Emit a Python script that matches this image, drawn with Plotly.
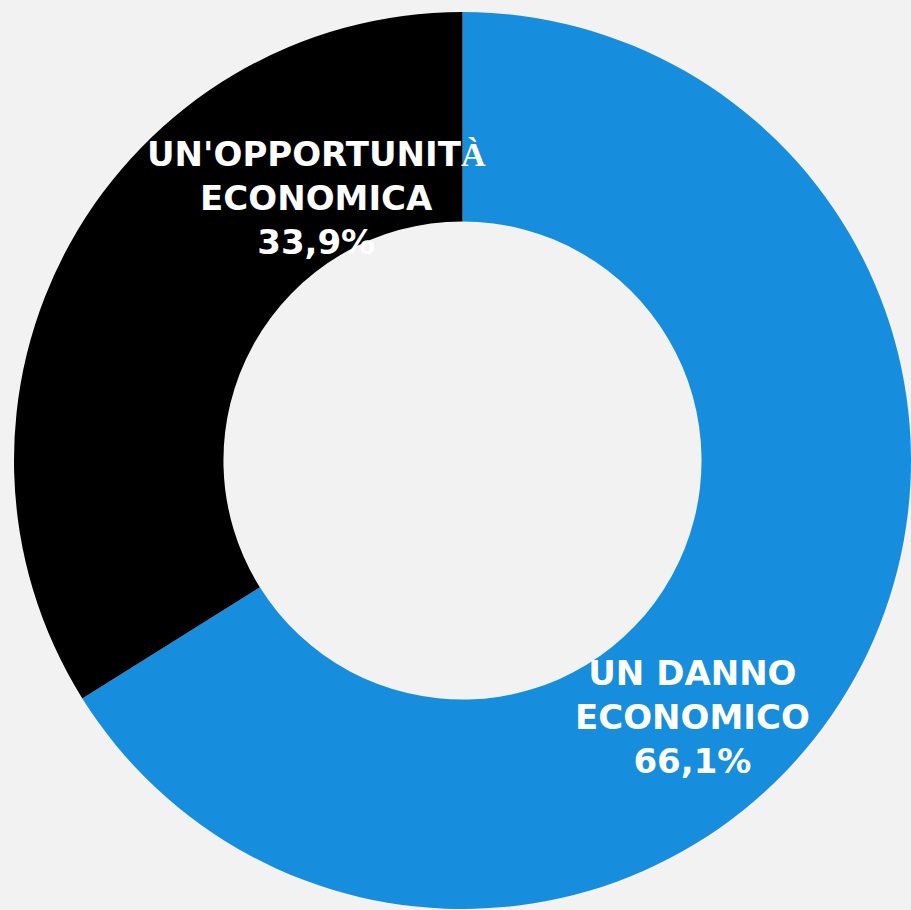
import plotly.graph_objects as go

# Survey shares: is it an economic damage or an opportunity?
categories = ["UN DANNO\nECONOMICO", "UN'OPPORTUNITÀ\nECONOMICA"]
shares = [66.1, 33.9]
colors = ["#168ddd", "#000000"]

# label anchor points in pixels (centre of each text block)
label_px = [(692, 717), (316, 198)]

W, H = 911, 910
ML, MT = 14, 11
PW, PH = W - ML, H - MT


def to_paper(px, py):
    return (px - ML) / PW, 1 - (py - MT) / PH


def accent_fallback(s):
    # accented capitals are set in a serif face
    out = []
    for ch in s:
        if ord(ch) > 127:
            out.append(f"<span style=\"font-family:'Liberation Serif',serif\">{ch}</span>")
        else:
            out.append(ch)
    return "".join(out)


fig = go.Figure(
    go.Pie(
        values=shares,
        labels=[c.replace("\n", " ") for c in categories],
        marker=dict(colors=colors, line=dict(width=0)),
        hole=0.533,
        sort=False,
        direction="clockwise",
        rotation=0,
        textinfo="none",
        hoverinfo="skip",
        showlegend=False,
    )
)

for cat, val, (px, py) in zip(categories, shares, label_px):
    x, y = to_paper(px, py)
    txt = "<br>".join(accent_fallback(part) for part in cat.split("\n"))
    txt += "<br>" + f"{val:.1f}%".replace(".", ",")
    fig.add_annotation(
        x=x, y=y, xref="paper", yref="paper",
        text=txt, showarrow=False,
        xanchor="center", yanchor="middle", align="center",
        font=dict(family="DejaVu Sans", size=34, color="#ffffff", weight="bold"),
    )

fig.update_layout(
    width=W, height=H,
    margin=dict(l=ML, t=MT, r=0, b=0, pad=0),
    paper_bgcolor="#f2f2f2",
    plot_bgcolor="#f2f2f2",
)

fig.write_html("out.html")
